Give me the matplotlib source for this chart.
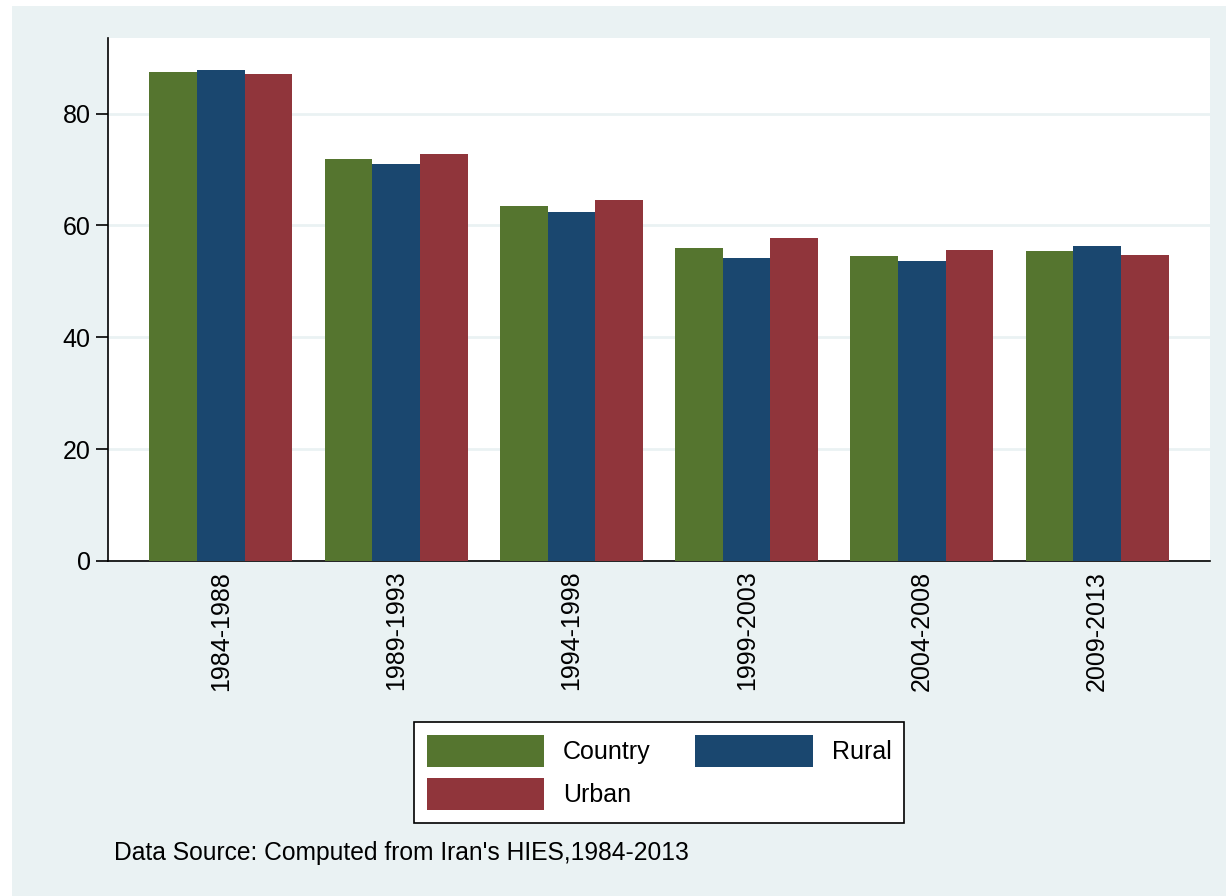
import numpy as np
import matplotlib.pyplot as plt
from matplotlib.patches import Rectangle

plt.rcParams['font.family'] = ['Liberation Sans', 'DejaVu Sans']

# Datos
periodos = ['1984-1988', '1989-1993', '1994-1998', '1999-2003', '2004-2008', '2009-2013']
country = [87.4, 71.8, 63.4, 55.9, 54.5, 55.5]
rural = [87.8, 70.9, 62.4, 54.2, 53.6, 56.3]
urban = [87.0, 72.7, 64.5, 57.7, 55.6, 54.7]

fondo = '#EAF2F3'
verde = '#55752F'
azul = '#1A476F'
rojo = '#90353B'

fig = plt.figure(figsize=(12.26, 8.96), dpi=100, facecolor='white')
# region del grafico (estilo Stata)
fig.patches.append(Rectangle((12 / 1226, 0), 1 - 12 / 1226, 1 - 6 / 896,
                             transform=fig.transFigure, facecolor=fondo,
                             edgecolor='none', zorder=-10))

ax = fig.add_axes([108 / 1226, 1 - 561 / 896, (1210 - 108) / 1226, (561 - 38) / 896])
ax.set_facecolor('white')

x = np.arange(len(periodos))
ancho = 0.272
b1 = ax.bar(x - ancho, country, ancho, color=verde, label='Country', zorder=3)
b2 = ax.bar(x, rural, ancho, color=azul, label='Rural', zorder=3)
b3 = ax.bar(x + ancho, urban, ancho, color=rojo, label='Urban', zorder=3)

ax.set_xlim(-0.644, len(periodos) - 1 + 0.644)
ax.set_ylim(0, 93.5)
ax.set_yticks([0, 20, 40, 60, 80])
ax.yaxis.grid(True, color=fondo, linewidth=2, zorder=0)
ax.set_axisbelow(True)

ax.set_xticks(x)
ax.set_xticklabels(periodos, rotation=90, fontsize=18)
ax.tick_params(axis='x', length=0, pad=7)
ax.tick_params(axis='y', labelsize=18, length=8.5, width=1.2, pad=4)

for s in ['top', 'right']:
    ax.spines[s].set_visible(False)
for s in ['left', 'bottom']:
    ax.spines[s].set_linewidth(1.2)
    ax.spines[s].set_color('black')

leg = fig.legend([b1, b3, b2], ['Country', 'Urban', 'Rural'], ncol=2,
                 loc='center', bbox_to_anchor=(659 / 1226, 1 - 772.5 / 896),
                 fontsize=18, handlelength=4.7, handleheight=1.6,
                 handletextpad=0.75, columnspacing=1.8, labelspacing=0.45,
                 borderpad=0.5, fancybox=False, edgecolor='black',
                 framealpha=1)
leg.get_frame().set_linewidth(1.2)

fig.text(114 / 1226, 1 - 853 / 896, "Data Source: Computed from Iran's HIES,1984-2013",
         fontsize=17.7, va='center', ha='left')

plt.savefig('out.png', dpi=100, facecolor=fig.get_facecolor())
